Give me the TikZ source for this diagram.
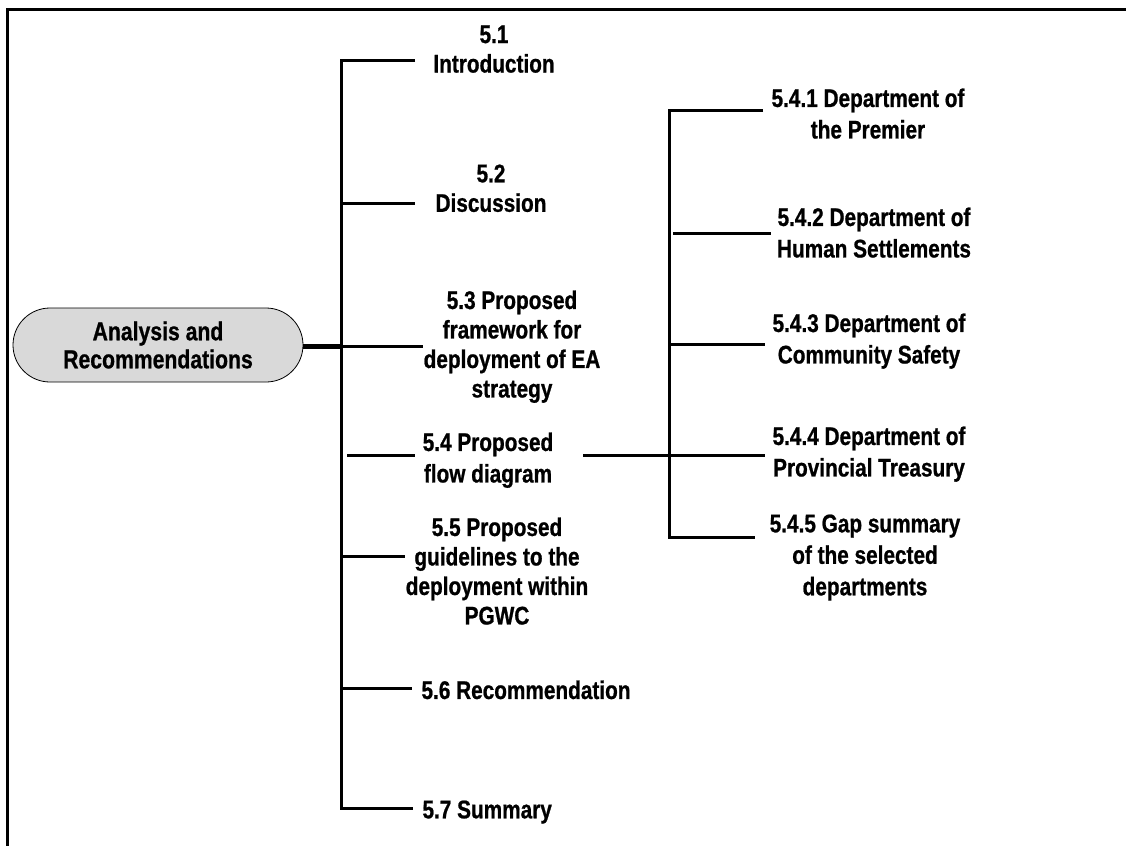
\documentclass[tikz,border=0pt]{standalone}
\usepackage{fontspec}
\setmainfont[FakeStretch=0.815,BoldFeatures={FakeBold=0.8}]{Liberation Sans}
\begin{document}
\begin{tikzpicture}[x=1pt,y=-1pt,
  line width=3pt,
  lbl/.style={font=\fontsize{25.5}{29.5}\selectfont\bfseries, align=center, inner sep=0pt, anchor=north},
  lblwide/.style={lbl, font=\fontsize{25.5}{31.5}\selectfont\bfseries},
  lblleft/.style={lbl, anchor=north west},
  rootbox/.style={draw, line width=0.8pt, fill=gray!30, rounded corners=37pt,
    minimum width=290pt, minimum height=74pt, inner sep=0pt, align=center,
    font=\fontsize{26}{28}\selectfont\bfseries}]
\useasboundingbox (0,0) rectangle (1126,846);

% open frame: top and left edges
\draw[line join=miter] (1126,9.5) -- (7.5,9.5) -- (7.5,846);

% root
\node[rootbox] (root) at (158,345) {Analysis and\\Recommendations};

% chapter sections
\node[lbl] (s1) at (494,24) {5.1\\Introduction};
\node[lbl] (s2) at (491,163) {5.2\\Discussion};
\node[lbl] (s3) at (512,289) {5.3 Proposed\\framework for\\deployment of EA\\strategy};
\node[lblwide] (s4) at (488,431) {5.4 Proposed\\flow diagram};
\node[lbl] (s5) at (497,516) {5.5 Proposed\\guidelines to the\\deployment within\\PGWC};
\node[lblleft] (s6) at (420,679) {5.6 Recommendation};
\node[lblleft] (s7) at (421,799) {5.7 Summary};

% departments under 5.4
\node[lblwide] (d1) at (868,87) {5.4.1 Department of\\the Premier};
\node[lblwide] (d2) at (874,206) {5.4.2 Department of\\Human Settlements};
\node[lblwide] (d3) at (869,312) {5.4.3 Department of\\Community Safety};
\node[lblwide] (d4) at (869,425) {5.4.4 Department of\\Provincial Treasury};
\node[lblwide] (d5) at (865,513) {5.4.5 Gap summary\\of the selected\\departments};

% main trunk points
\coordinate (t1) at (341.5,60);
\coordinate (t2) at (341.5,203);
\coordinate (t3) at (341.5,346);
\coordinate (t4) at (347,455);
\coordinate (t5) at (341.5,556);
\coordinate (t6) at (341.5,688);
\coordinate (t7) at (341.5,808);
\coordinate (e1) at (415,60);
\coordinate (e2) at (415,203);
\coordinate (e3) at (423,346);
\coordinate (e4) at (415,455);
\coordinate (e5) at (405,556);
\coordinate (e6) at (412,688);
\coordinate (e7) at (413,808);

\draw[line width=5pt] (root.east |- t3) -- (t3);
\draw[line join=miter] (e1) -- (t1) -- (t7) -- (e7);
\draw (t2) -- (e2);
\draw (t3) -- (e3);
\draw (t4) -- (e4);
\draw (t5) -- (e5);
\draw (t6) -- (e6);

% sub trunk for 5.4
\coordinate (f0) at (583,455);
\coordinate (u1) at (669,110);
\coordinate (u2) at (673,233);
\coordinate (u3) at (669,344);
\coordinate (u4) at (669,455);
\coordinate (u5) at (669,537);
\coordinate (g1) at (763,110);
\coordinate (g2) at (771,233);
\coordinate (g3) at (765,344);
\coordinate (g4) at (765,455);
\coordinate (g5) at (755,537);

\draw (f0) -- (u4) -- (g4);
\draw[line join=miter] (g1) -- (u1) -- (u5) -- (g5);
\draw (u2) -- (g2);
\draw (u3) -- (g3);
\end{tikzpicture}
\end{document}
